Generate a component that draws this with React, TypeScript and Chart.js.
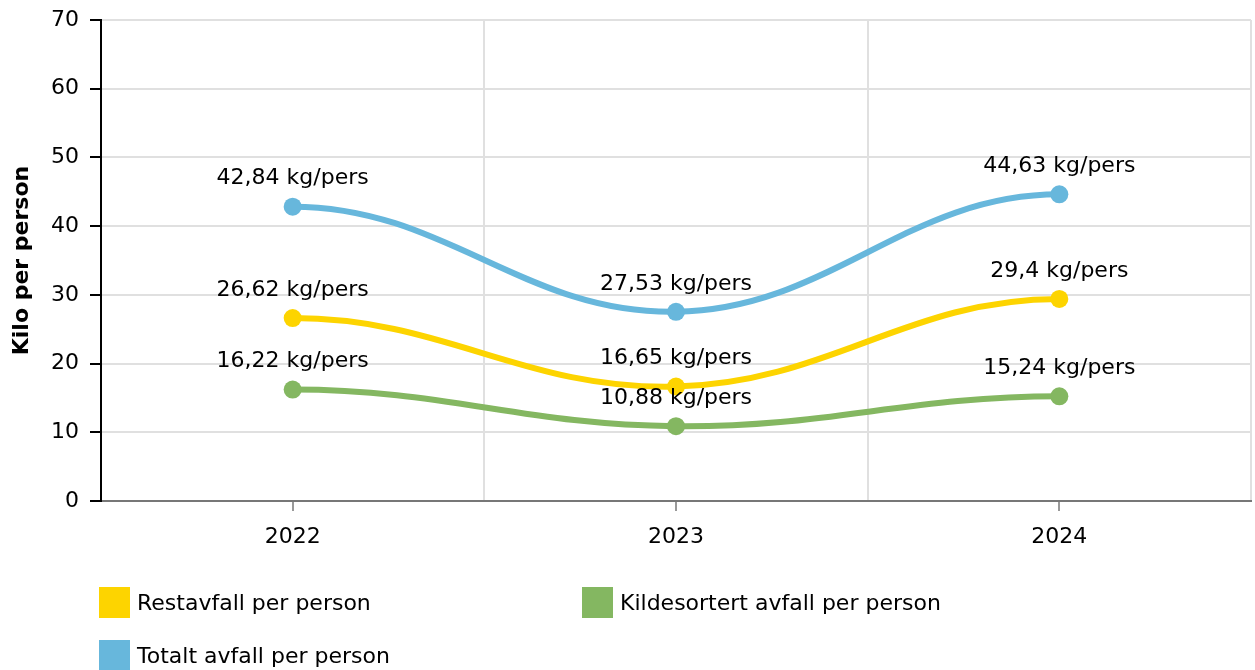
import React, { useEffect, useRef } from "react";
import { Chart, registerables } from "chart.js";

Chart.register(...registerables);

const years = ["2022", "2023", "2024"];
const restavfall = [26.62, 16.65, 29.4];
const kildesortert = [16.22, 10.88, 15.24];
const totalt = [42.84, 27.53, 44.63];
const seriesNames = ["Restavfall per person", "Kildesortert avfall per person", "Totalt avfall per person"];
const seriesColors = ["#fdd400", "#84b761", "#67b7dc"];
const yTitle = "Kilo per person";
const yMin = 0;
const yMax = 70;
const yStep = 10;
const unit = "kg/pers";

const FONT = '"DejaVu Sans", Verdana, sans-serif';
const W = 1255;
const H = 670;
const CW = 1260;

const fmt = (v: number) => String(v).replace(".", ",") + " " + unit;

const flatEnds = {
  id: "flatEnds",
  beforeDatasetDraw(chart: any, args: any) {
    const meta = args.meta;
    const line = meta.dataset;
    if (!line) return;
    line.updateControlPoints(chart.chartArea, meta.iScale.axis);
    const pts = meta.data;
    const n = pts.length;
    if (n < 2) return;
    pts[0].cp2y = pts[0].y;
    pts[n - 1].cp1y = pts[n - 1].y;
  },
};

const xTicks = {
  id: "xTicks",
  afterDatasetsDraw(chart: any) {
    const ctx = chart.ctx;
    const xs = chart.scales.x;
    const bottom = chart.chartArea.bottom;
    ctx.save();
    ctx.strokeStyle = "#999";
    ctx.lineWidth = 2;
    for (let i = 0; i < years.length; i++) {
      const x = Math.round(xs.getPixelForValue(i));
      ctx.beginPath();
      ctx.moveTo(x, bottom + 1);
      ctx.lineTo(x, bottom + 10);
      ctx.stroke();
    }
    ctx.restore();
  },
};

const valueLabels = {
  id: "valueLabels",
  afterDatasetsDraw(chart: any) {
    const ctx = chart.ctx;
    ctx.save();
    ctx.font = `22px ${FONT}`;
    ctx.fillStyle = "#000";
    ctx.textAlign = "center";
    ctx.textBaseline = "middle";
    chart.data.datasets.forEach((ds: any, di: number) => {
      const meta = chart.getDatasetMeta(di);
      meta.data.forEach((pt: any, i: number) => {
        ctx.fillText(fmt(ds.data[i]), pt.x, pt.y - 28);
      });
    });
    ctx.restore();
  },
};

export default function App() {
  const ref = useRef<HTMLCanvasElement | null>(null);

  useEffect(() => {
    if (!ref.current) return;
    const seriesData = [restavfall, kildesortert, totalt];
    const chart = new Chart(ref.current, {
      type: "line",
      data: {
        labels: years,
        datasets: seriesData.map((d, i) => ({
          label: seriesNames[i],
          data: d,
          borderColor: seriesColors[i],
          backgroundColor: seriesColors[i],
          borderWidth: 6,
          pointRadius: 9,
          pointBorderWidth: 0,
          pointBackgroundColor: seriesColors[i],
          tension: 0.4,
          fill: false,
        })),
      },
      options: {
        responsive: false,
        animation: false,
        devicePixelRatio: 1,
        layout: { padding: { top: 20, right: 0, left: 0, bottom: 0 } },
        plugins: {
          legend: { display: false },
          tooltip: { enabled: false },
        },
        scales: {
          x: {
            type: "category",
            offset: true,
            grid: { offset: true, drawTicks: false, color: "#e0e0e0", lineWidth: 2 },
            border: { color: "#777", width: 2 },
            ticks: { padding: 23, color: "#000", font: { family: FONT, size: 22 } },
            afterFit: (s: any) => {
              s.height = H - 501;
              s.paddingLeft = 0;
              s.paddingRight = 0;
            },
          },
          y: {
            min: yMin,
            max: yMax,
            ticks: { stepSize: yStep, padding: 11, color: "#000", font: { family: FONT, size: 22 } },
            grid: { color: "#e0e0e0", lineWidth: 2, tickLength: 11, tickColor: "#000", tickWidth: 2 },
            border: { color: "#000", width: 2 },
            title: {
              display: true,
              text: yTitle,
              color: "#000",
              font: { family: FONT, size: 22, weight: "bold" },
              padding: { top: 9, bottom: 0 },
            },
            afterFit: (s: any) => {
              s.width = 101;
              s.paddingTop = 0;
              s.paddingBottom = 0;
            },
          },
        },
      } as any,
      plugins: [flatEnds, xTicks, valueLabels],
    });
    return () => chart.destroy();
  }, []);

  const legendPos = [
    { left: 99, top: 587 },
    { left: 582, top: 587 },
    { left: 99, top: 640 },
  ];

  return (
    <div style={{ position: "absolute", left: 0, top: 0, width: W, height: H, background: "#fff", overflow: "hidden" }}>
      <canvas ref={ref} width={CW} height={H} style={{ display: "block", width: CW, height: H }} />
      {seriesNames.map((name, i) => (
        <div
          key={name}
          style={{
            position: "absolute",
            left: legendPos[i].left,
            top: legendPos[i].top,
            height: 31,
            display: "flex",
            alignItems: "center",
            fontFamily: FONT,
            fontSize: 22,
            color: "#000",
            whiteSpace: "nowrap",
          }}
        >
          <span style={{ display: "inline-block", width: 31, height: 31, background: seriesColors[i], marginRight: 7 }} />
          <span>{name}</span>
        </div>
      ))}
    </div>
  );
}
